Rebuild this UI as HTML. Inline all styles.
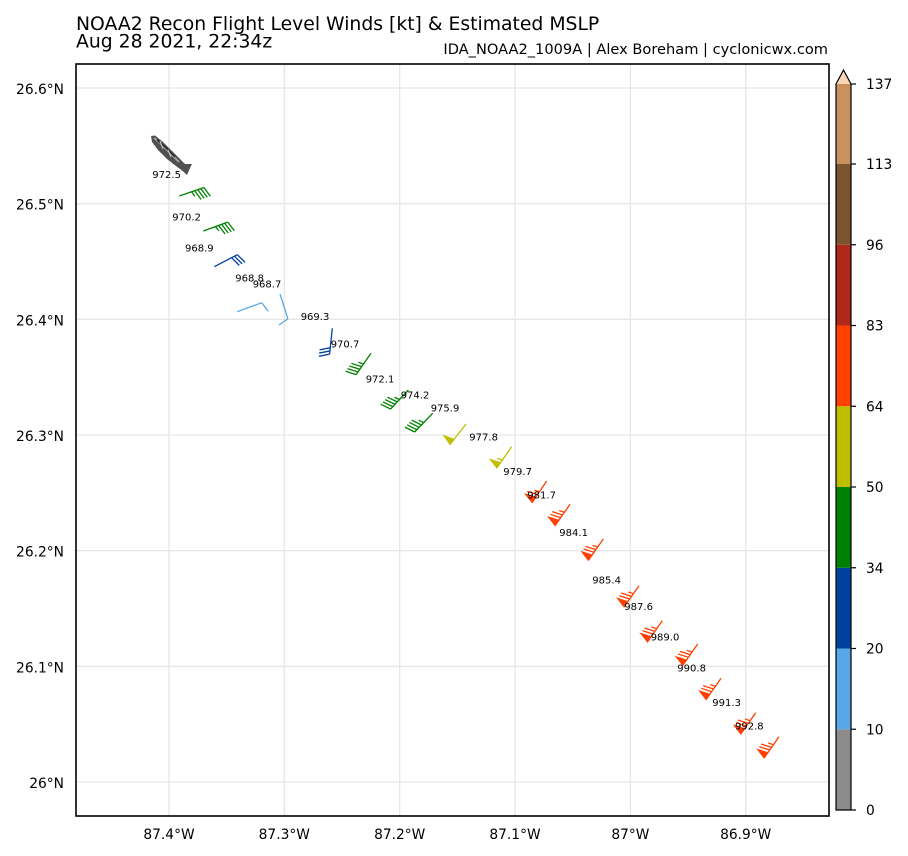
<!DOCTYPE html>
<html>
<head>
<meta charset="utf-8">
<style>
html,body{margin:0;padding:0;background:#fff;}
svg{display:block;}
text{font-family:"DejaVu Sans","Liberation Sans",sans-serif;fill:#000;}
</style>
</head>
<body>
<svg id="s" width="908" height="856" viewBox="0 0 908 856" xmlns="http://www.w3.org/2000/svg">
<rect width="908" height="856" fill="#fff"/>
<!-- titles -->
<text x="76" y="30" font-size="18.8">NOAA2 Recon Flight Level Winds [kt] &amp; Estimated MSLP</text>
<text x="76" y="47.5" font-size="18.8">Aug 28 2021, 22:34z</text>
<text x="828" y="54" font-size="14.6" text-anchor="end">IDA_NOAA2_1009A | Alex Boreham | cyclonicwx.com</text>

<!-- gridlines -->
<g stroke="#e6e6e6" stroke-width="1.3">
<line x1="169" y1="64" x2="169" y2="816"/>
<line x1="284.3" y1="64" x2="284.3" y2="816"/>
<line x1="399.7" y1="64" x2="399.7" y2="816"/>
<line x1="515" y1="64" x2="515" y2="816"/>
<line x1="630.4" y1="64" x2="630.4" y2="816"/>
<line x1="745.7" y1="64" x2="745.7" y2="816"/>
<line x1="76" y1="88" x2="829" y2="88"/>
<line x1="76" y1="203.7" x2="829" y2="203.7"/>
<line x1="76" y1="319.3" x2="829" y2="319.3"/>
<line x1="76" y1="435" x2="829" y2="435"/>
<line x1="76" y1="550.6" x2="829" y2="550.6"/>
<line x1="76" y1="666.3" x2="829" y2="666.3"/>
<line x1="76" y1="782" x2="829" y2="782"/>
</g>

<!-- tick labels -->
<g font-size="13.8" text-anchor="end">
<text x="64" y="94">26.6°N</text>
<text x="64" y="209.7">26.5°N</text>
<text x="64" y="325.3">26.4°N</text>
<text x="64" y="441">26.3°N</text>
<text x="64" y="556.6">26.2°N</text>
<text x="64" y="672.3">26.1°N</text>
<text x="64" y="788">26°N</text>
</g>
<g font-size="13.8" text-anchor="middle">
<text x="169" y="839">87.4°W</text>
<text x="284.3" y="839">87.3°W</text>
<text x="399.7" y="839">87.2°W</text>
<text x="515" y="839">87.1°W</text>
<text x="630.4" y="839">87°W</text>
<text x="745.7" y="839">86.9°W</text>
</g>

<!-- barbs container -->
<g id="barbs" stroke-linecap="butt" stroke-linejoin="miter"></g>

<!-- plane icon -->
<g>
<path d="M151,136 L155,135.5 L163,142 L172,151 L180,159 L185,164 L192,164 L190,168 L187,175 L182,170.5 L176,166 L167,159 L158,150 L152,142 Z" fill="#505050"/>
<path d="M154,138 L162,145 L171,154 L179,162" stroke="#a8a8a8" stroke-width="1.6" fill="none"/>
<path d="M157,140 L165,147 L175,157" stroke="#1e1e1e" stroke-width="1.2" fill="none"/>
<path d="M160,141 L163,149 M168,150 L171,157" stroke="#d0d0d0" stroke-width="1" fill="none"/>
</g>

<!-- pressure labels -->
<g font-size="10">
<text x="152.3" y="178">972.5</text>
<text x="172.3" y="220.7">970.2</text>
<text x="185" y="251.7">968.9</text>
<text x="235.3" y="281.7">968.8</text>
<text x="252.7" y="287.3">968.7</text>
<text x="300.7" y="320">969.3</text>
<text x="330.7" y="347.3">970.7</text>
<text x="365.7" y="382.3">972.1</text>
<text x="400.7" y="398.3">974.2</text>
<text x="430.7" y="411.7">975.9</text>
<text x="469.3" y="440.7">977.8</text>
<text x="503.3" y="475">979.7</text>
<text x="527.3" y="498.3">981.7</text>
<text x="559.3" y="536">984.1</text>
<text x="592.3" y="583.3">985.4</text>
<text x="624.3" y="610">987.6</text>
<text x="650.7" y="640.7">989.0</text>
<text x="677.3" y="671.7">990.8</text>
<text x="712.3" y="706">991.3</text>
<text x="735" y="729.3">992.8</text>
</g>

<!-- axes frame -->
<rect x="76" y="64" width="753" height="752" fill="none" stroke="#000" stroke-width="1.6"/>

<!-- colorbar -->
<g>
<rect x="836" y="729.25" width="15" height="80.75" fill="#8c8c8c"/>
<rect x="836" y="648.5" width="15" height="80.75" fill="#56a8e8"/>
<rect x="836" y="567.75" width="15" height="80.75" fill="#0041a0"/>
<rect x="836" y="487" width="15" height="80.75" fill="#008000"/>
<rect x="836" y="406.25" width="15" height="80.75" fill="#bfbf00"/>
<rect x="836" y="325.5" width="15" height="80.75" fill="#ff4000"/>
<rect x="836" y="244.75" width="15" height="80.75" fill="#b0281c"/>
<rect x="836" y="164" width="15" height="80.75" fill="#7a5530"/>
<rect x="836" y="83.25" width="15" height="80.75" fill="#c8915e"/>
<path d="M836,84 L843.5,70 L851,84 Z" fill="#f9d6b8"/>
<path d="M836,84 L843.5,70 L851,84 L851,810 L836,810 Z" fill="none" stroke="#000" stroke-width="1.2"/>
<g stroke="#000" stroke-width="1.2">
<line x1="851" y1="810" x2="856" y2="810"/>
<line x1="851" y1="729.25" x2="856" y2="729.25"/>
<line x1="851" y1="648.5" x2="856" y2="648.5"/>
<line x1="851" y1="567.75" x2="856" y2="567.75"/>
<line x1="851" y1="487" x2="856" y2="487"/>
<line x1="851" y1="406.25" x2="856" y2="406.25"/>
<line x1="851" y1="325.5" x2="856" y2="325.5"/>
<line x1="851" y1="244.75" x2="856" y2="244.75"/>
<line x1="851" y1="164" x2="856" y2="164"/>
<line x1="851" y1="84" x2="856" y2="84"/>
</g>
<g font-size="13.8">
<text x="866" y="815">0</text>
<text x="866" y="734.3">10</text>
<text x="866" y="653.5">20</text>
<text x="866" y="572.8">34</text>
<text x="866" y="492">50</text>
<text x="866" y="411.3">64</text>
<text x="866" y="330.5">83</text>
<text x="866" y="249.8">96</text>
<text x="866" y="169">113</text>
<text x="866" y="89">137</text>
</g>
</g>
</svg>
<script>
(function(){
var NS="http://www.w3.org/2000/svg";
var g=document.getElementById("barbs");
function el(n,a){var e=document.createElementNS(NS,n);for(var k in a)e.setAttribute(k,a[k]);g.appendChild(e);return e;}
function barb(bx,by,ang,spd,col){
  var L=26,h=10.4,w=6.5,s=3.25;
  var a=ang*Math.PI/180,dx=Math.cos(a),dy=Math.sin(a),px=-dy,py=dx;
  function P(t,k){k=k||0;return [bx+t*dx+k*px,by+t*dy+k*py];}
  var v=Math.round(spd/5)*5;
  var nf=Math.floor(v/50);v-=nf*50;
  var nb=Math.floor(v/10);v-=nb*10;
  var half=v>=5;
  var E=P(L),B=P(0);
  el("line",{x1:B[0],y1:B[1],x2:E[0],y2:E[1],stroke:col,"stroke-width":1.3});
  var off=L;
  for(var i=0;i<nf;i++){
    if(off!=L)off+=s/2;
    var p1=P(off),p2=P(off-w/2,h),p3=P(off-w);
    el("polygon",{points:p1.join(",")+" "+p2.join(",")+" "+p3.join(","),fill:col,stroke:col,"stroke-width":1});
    off-=w+s;
  }
  for(var j=0;j<nb;j++){
    var q1=P(off),q2=P(off+w/2,h);
    el("line",{x1:q1[0],y1:q1[1],x2:q2[0],y2:q2[1],stroke:col,"stroke-width":1.3});
    off-=s;
  }
  if(half){
    if(off==L)off-=1.5*s;
    var r1=P(off),r2=P(off+w/4,h/2);
    el("line",{x1:r1[0],y1:r1[1],x2:r2[0],y2:r2[1],stroke:col,"stroke-width":1.3});
  }
}
var G="#008000",B="#0041a0",LB="#56a8e8",Y="#bfbf00",O="#ff4000";
barb(179.3,196,-19,45,G);
barb(203.3,231,-20,45,G);
barb(214.3,266.7,-27.6,30,B);
barb(237.3,311.7,-20.2,10,LB);
barb(280,294,72.3,10,LB);
barb(332.3,328.3,96,30,B);
barb(371,353.3,125,45,G);
barb(408.3,390,133,45,G);
barb(432.7,413.3,134,45,G);
barb(466,424,128,50,Y);
barb(511.7,446.7,125,55,Y);
barb(546.7,481,124,65,O);
barb(570,504.3,125,75,O);
barb(603.3,539,125,75,O);
barb(639,585.7,125,75,O);
barb(662.3,620.7,125,75,O);
barb(697.7,644,125,75,O);
barb(721,678.3,125,75,O);
barb(755.7,712.7,125,75,O);
barb(779,736.7,125,75,O);
})();
</script>
</body>
</html>
